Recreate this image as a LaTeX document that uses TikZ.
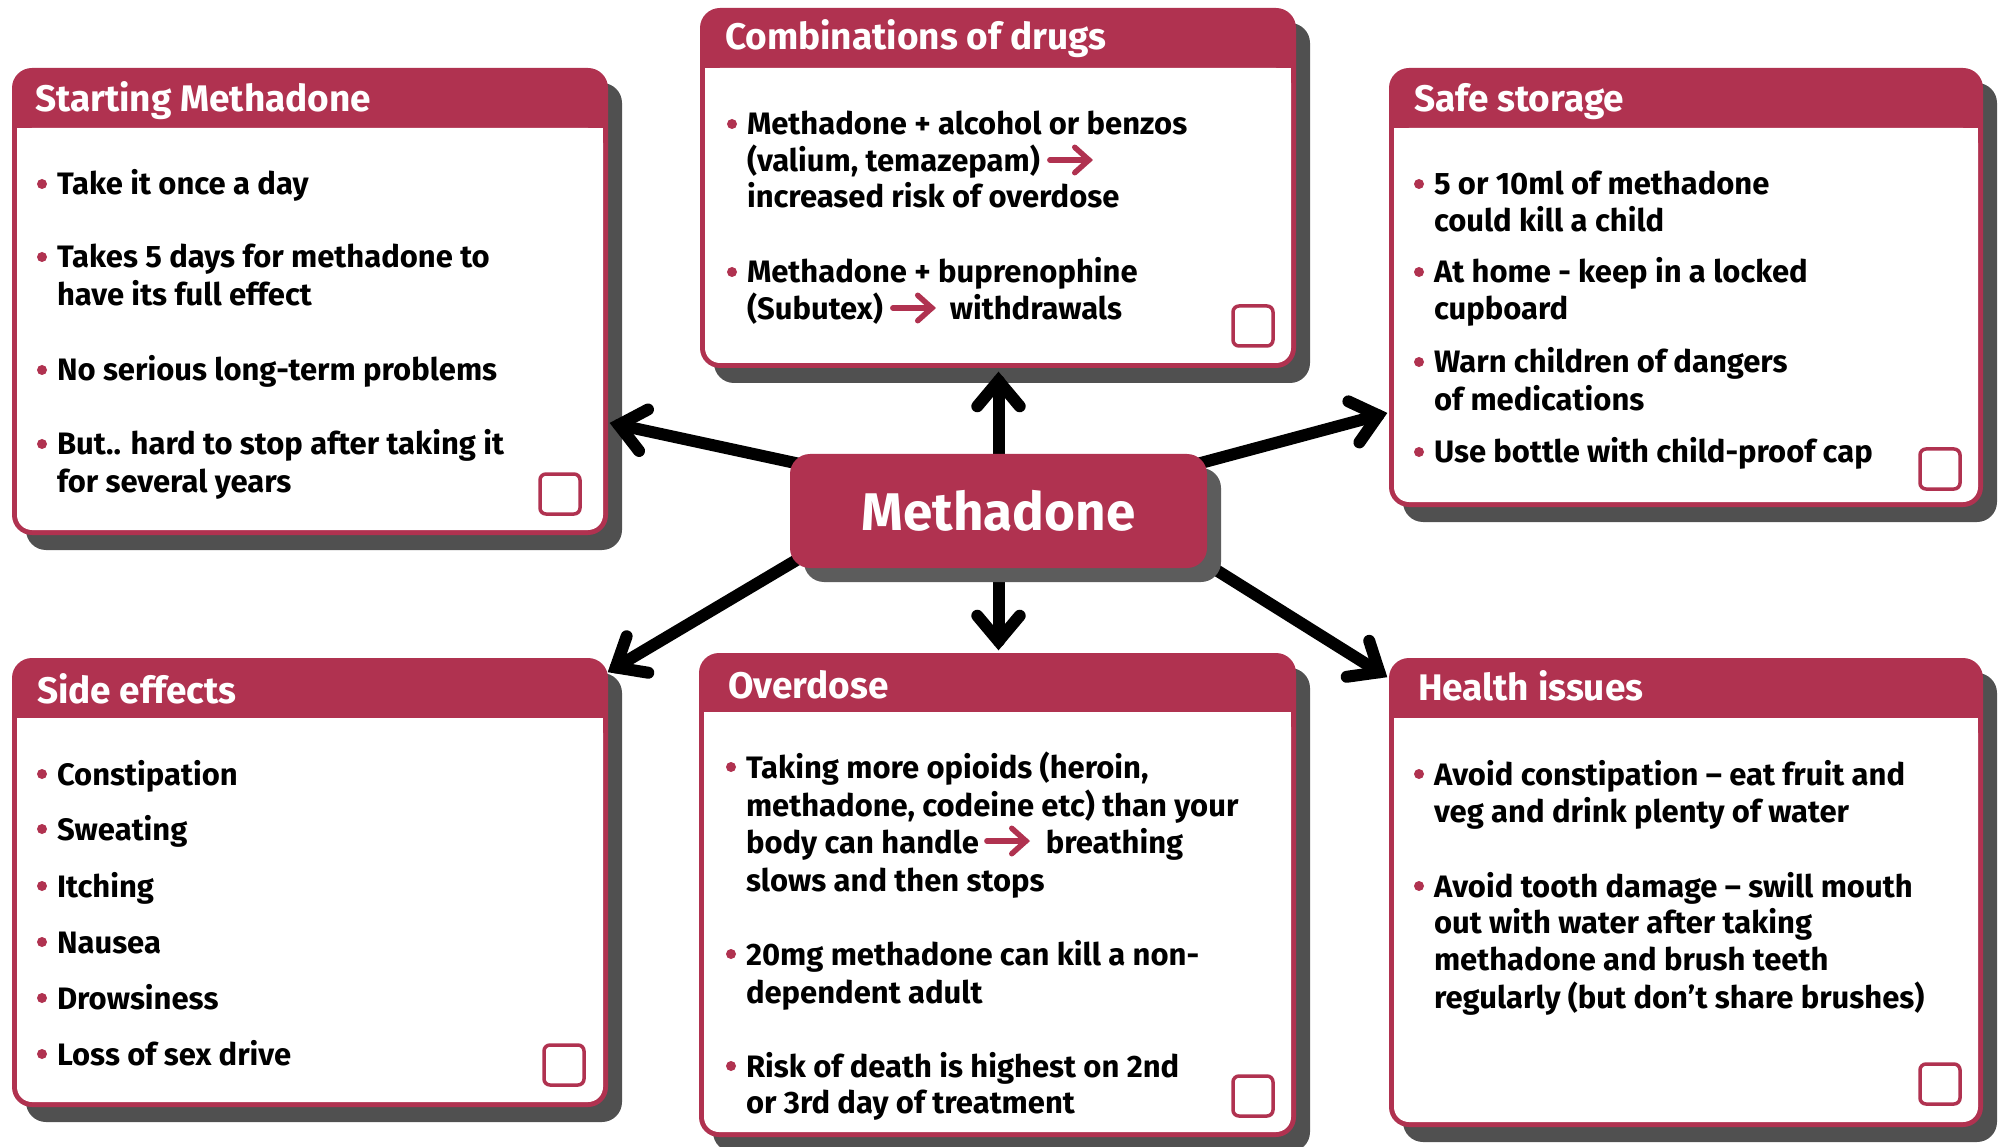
\documentclass[tikz,border=0pt]{standalone}
\usepackage{fontspec}
\setmainfont{Fira Sans}
\usetikzlibrary{calc}
\definecolor{crim}{RGB}{176,50,80}
\definecolor{shad}{RGB}{80,80,80}
\definecolor{shadm}{RGB}{92,92,92}
\pgfdeclarelayer{front}
\pgfsetlayers{main,front}
\tikzset{
  itemtext/.style={anchor=base west, inner sep=0, outer sep=0, font=\fontsize{31}{37}\selectfont\bfseries, text=black},
  titletext/.style={anchor=base west, inner sep=0, outer sep=0, font=\fontsize{37}{44}\selectfont\bfseries, text=white},
  boxframe/.style={fill=crim, rounded corners=20, inner sep=0, outer sep=0},
  bigline/.style={line width=12, line cap=round, draw=black},
  redline/.style={line width=5.5, line cap=round, draw=crim},
  checkbox/.style={draw=crim, fill=white, line width=3.5, rounded corners=6, inner sep=0, outer sep=0, minimum size=40},
}
\newcommand\infobox[6]{%
  \fill[shad, rounded corners=20] ({#2+14},{#3+15}) rectangle ({#4+14},{#5+15});
  \node[boxframe, minimum width={#4-#2}, minimum height={#5-#3}] (#1) at ({(#2+#4)/2},{(#3+#5)/2}) {};
  \fill[white, rounded corners=15] ({#2+5},#6) rectangle ({#4-5},{#5-5});
  \fill[white] ({#2+5},#6) rectangle ({#4-5},{#6+20});
}
\newcommand\txl[4]{\node[itemtext] (#1) at (#2,#3) {#4};}
\newcommand\bdot[1]{\fill[crim] ($(#1.base west)+(-15,-11)$) circle (5);}
\newcommand\bigarrow[2]{%
  \coordinate (bat) at ($(#2)!9pt!(#1)$);
  \draw[bigline] (#1) -- (bat);
  \draw[bigline, line join=miter] ($(bat)!33pt!40:(#1)$) -- (bat) -- ($(bat)!33pt!-40:(#1)$);
}
\newcommand\redarrow[2]{%
  \coordinate (rat) at ($(#2)!4pt!(#1)$);
  \draw[redline] (#1) -- (rat);
  \draw[redline, line join=miter] ($(rat)!19pt!42:(#1)$) -- (rat) -- ($(rat)!19pt!-42:(#1)$);
}
\begin{document}
\begin{tikzpicture}[x=1pt,y=-1pt]
\useasboundingbox (0,0) rectangle (2006,1147);
\fill[white] (0,0) rectangle (2006,1147);

% centre box on front layer
\begin{pgfonlayer}{front}
  \fill[shadm, rounded corners=20] (804,468) rectangle (1221,582);
  \node[boxframe, minimum width=417, minimum height=114, text=white,
        font=\fontsize{53}{60}\selectfont\bfseries] (m) at (998.5,511) {Methadone};
\end{pgfonlayer}

% ---------- Starting Methadone ----------
\infobox{sm}{12}{68}{608}{535}{128}
\node[titletext] (smt) at (35,112) {Starting Methadone};
\txl{sm1}{57}{195}{Take it once a day}\bdot{sm1}
\txl{sm2}{57}{268}{Takes 5 days for methadone to}\bdot{sm2}
\txl{sm3}{57}{305.5}{have its full effect}
\txl{sm4}{57}{381}{No serious long-term problems}\bdot{sm4}
\txl{sm5}{57}{455}{But.. hard to stop after taking it}\bdot{sm5}
\txl{sm6}{57}{492}{for several years}
\node[checkbox] (smc) at (560,494) {};

% ---------- Combinations of drugs ----------
\infobox{cd}{700}{8}{1296}{368}{68}
\node[titletext] (cdt) at (725,50) {Combinations of drugs};
\txl{cd1}{747}{135}{Methadone + alcohol or benzos}\bdot{cd1}
\txl{cd2}{747}{172}{(valium, temazepam)}
\coordinate (cda1) at ($(cd2.base east)+(10,-12)$);
\coordinate (cda2) at ($(cda1)+(43,0)$);
\redarrow{cda1}{cda2}
\txl{cd3}{747}{208}{increased risk of overdose}
\txl{cd4}{747}{283}{Methadone + buprenophine}\bdot{cd4}
\txl{cd5}{747}{320}{(Subutex)}
\coordinate (cdb1) at ($(cd5.base east)+(10,-12)$);
\coordinate (cdb2) at ($(cdb1)+(43,0)$);
\redarrow{cdb1}{cdb2}
\node[itemtext] (cd6) at ($(cdb2)+(14,12)$) {withdrawals};
\node[checkbox] (cdc) at (1253,326) {};

% ---------- Safe storage ----------
\infobox{ss}{1389}{68}{1983}{507}{128}
\node[titletext] (sst) at (1414,112) {Safe storage};
\txl{ss1}{1434}{195}{5 or 10ml of methadone}\bdot{ss1}
\txl{ss2}{1434}{232}{could kill a child}
\txl{ss3}{1434}{283}{At home - keep in a locked}\bdot{ss3}
\txl{ss4}{1434}{320}{cupboard}
\txl{ss5}{1434}{373}{Warn children of dangers}\bdot{ss5}
\txl{ss6}{1434}{411}{of medications}
\txl{ss7}{1434}{463}{Use bottle with child-proof cap}\bdot{ss7}
\node[checkbox] (ssc) at (1940,469) {};

% ---------- Side effects ----------
\infobox{se}{12}{658}{608}{1107}{718}
\node[titletext] (set) at (37,703) {Side effects};
\txl{se1}{57}{785}{Constipation}\bdot{se1}
\txl{se2}{57}{840}{Sweating}\bdot{se2}
\txl{se3}{57}{897}{Itching}\bdot{se3}
\txl{se4}{57}{953}{Nausea}\bdot{se4}
\txl{se5}{57}{1009}{Drowsiness}\bdot{se5}
\txl{se6}{57}{1065}{Loss of sex drive}\bdot{se6}
\node[checkbox] (sec) at (564,1065) {};

% ---------- Overdose ----------
\infobox{od}{699}{653}{1296}{1137}{712}
\node[titletext] (odt) at (728,698) {Overdose};
\txl{od1}{746}{778}{Taking more opioids (heroin,}\bdot{od1}
\txl{od2}{746}{816}{methadone, codeine etc) than your}
\txl{od3}{746}{853}{body can handle}
\coordinate (oda1) at ($(od3.base east)+(8,-12)$);
\coordinate (oda2) at ($(oda1)+(43,0)$);
\redarrow{oda1}{oda2}
\node[itemtext] (od3b) at ($(oda2)+(16,12)$) {breathing};
\txl{od4}{746}{891}{slows and then stops}
\txl{od5}{746}{965}{20mg methadone can kill a non-}\bdot{od5}
\txl{od6}{746}{1003}{dependent adult}
\txl{od7}{746}{1077}{Risk of death is highest on 2nd}\bdot{od7}
\txl{od8}{746}{1113}{or 3rd day of treatment}
\node[checkbox] (odc) at (1253,1096) {};

% ---------- Health issues ----------
\infobox{hi}{1389}{658}{1983}{1127}{718}
\node[titletext] (hit) at (1418,700) {Health issues};
\txl{hi1}{1434}{785}{Avoid constipation – eat fruit and}\bdot{hi1}
\txl{hi2}{1434}{822}{veg and drink plenty of water}
\txl{hi3}{1434}{897}{Avoid tooth damage – swill mouth}\bdot{hi3}
\txl{hi4}{1434}{933}{out with water after taking}
\txl{hi5}{1434}{970}{methadone and brush teeth}
\txl{hi6}{1434}{1008}{regularly (but don’t share brushes)}
\node[checkbox] (hic) at (1940,1084) {};

% ---------- connectors ----------
\coordinate (sUL) at ($(m.north west)+(10,10)$);
\coordinate (sUR) at ($(m.north east)+(-10,10)$);
\coordinate (sLL) at ($(m.south west)+(10,-10)$);
\coordinate (sLR) at ($(m.south east)+(-10,-10)$);
\coordinate (tSM) at (610,423);
\coordinate (tCD) at (998.5,372);
\coordinate (tSS) at (1387,413);
\coordinate (tSE) at (608,672);
\coordinate (tOD) at (998.5,650);
\coordinate (tHI) at (1387,677);
\bigarrow{sUL}{tSM}
\bigarrow{m.north}{tCD}
\bigarrow{sUR}{tSS}
\bigarrow{sLL}{tSE}
\bigarrow{m.south}{tOD}
\bigarrow{sLR}{tHI}
\end{tikzpicture}
\end{document}
